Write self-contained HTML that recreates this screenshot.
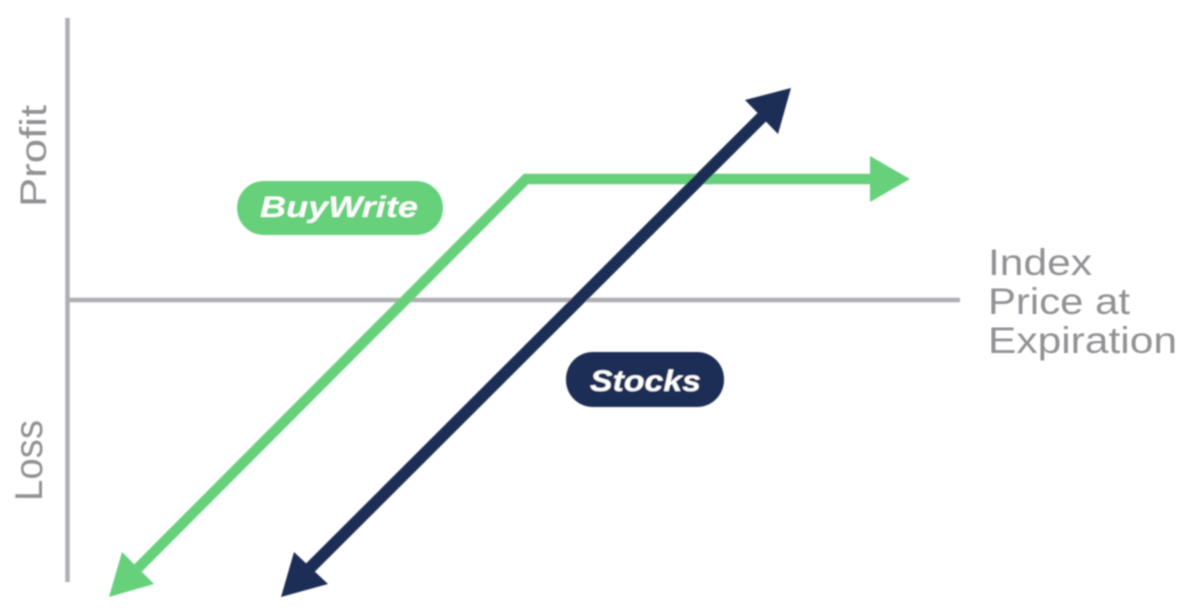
<!DOCTYPE html>
<html lang="en">
<head>
<meta charset="utf-8">
<title>BuyWrite vs Stocks payoff</title>
<style>
html,body{margin:0;padding:0;background:#fff;width:1188px;height:615px;overflow:hidden}
svg{display:block}
text{font-family:"Liberation Sans",sans-serif}
</style>
</head>
<body>
<svg width="1188" height="615" viewBox="0 0 1188 615" xmlns="http://www.w3.org/2000/svg">
<defs><filter id="b" x="-5%" y="-5%" width="110%" height="110%"><feGaussianBlur stdDeviation="0.9"/></filter></defs>
<rect width="1188" height="615" fill="#fff"/>
<g filter="url(#b)">
<line x1="67.5" y1="18" x2="67.5" y2="582" stroke="#aeaeb3" stroke-width="4.5"/>
<line x1="66" y1="300" x2="960" y2="300" stroke="#aeaeb3" stroke-width="4.5"/>

<polyline points="138,568 526,179 875,179" fill="none" stroke="#66d07a" stroke-width="10.5"/>
<polygon points="870,156 910,179 870,202" fill="#66d07a"/>
<polygon points="109,597 122,552 154,584" fill="#66d07a"/>

<line x1="310" y1="568" x2="764" y2="115" stroke="#1f2d54" stroke-width="12"/>
<polygon points="791,88 745,100 778,134" fill="#1f2d54"/>
<polygon points="281,597 294,552 328,584" fill="#1f2d54"/>

<rect x="237" y="181" width="206" height="54" rx="27" fill="#66d07a"/>
<text x="260" y="217" font-size="30" font-weight="700" font-style="italic" fill="#fff" textLength="158" lengthAdjust="spacingAndGlyphs">BuyWrite</text>
<rect x="566" y="352" width="158" height="55" rx="27" fill="#1f2d54"/>
<text x="590" y="391" font-size="30" font-weight="700" font-style="italic" fill="#fff" textLength="111" lengthAdjust="spacingAndGlyphs">Stocks</text>

<g font-size="37" fill="#929295">
<text x="988" y="275" textLength="104" lengthAdjust="spacingAndGlyphs">Index</text>
<text x="988" y="314" textLength="142" lengthAdjust="spacingAndGlyphs">Price at</text>
<text x="988" y="353" textLength="189" lengthAdjust="spacingAndGlyphs">Expiration</text>
<text transform="translate(46,207) rotate(-90)" textLength="102" lengthAdjust="spacingAndGlyphs">Profit</text>
<text transform="translate(42,501) rotate(-90)" font-size="39" textLength="81" lengthAdjust="spacingAndGlyphs">Loss</text>
</g>
</g>
</svg>
</body>
</html>
